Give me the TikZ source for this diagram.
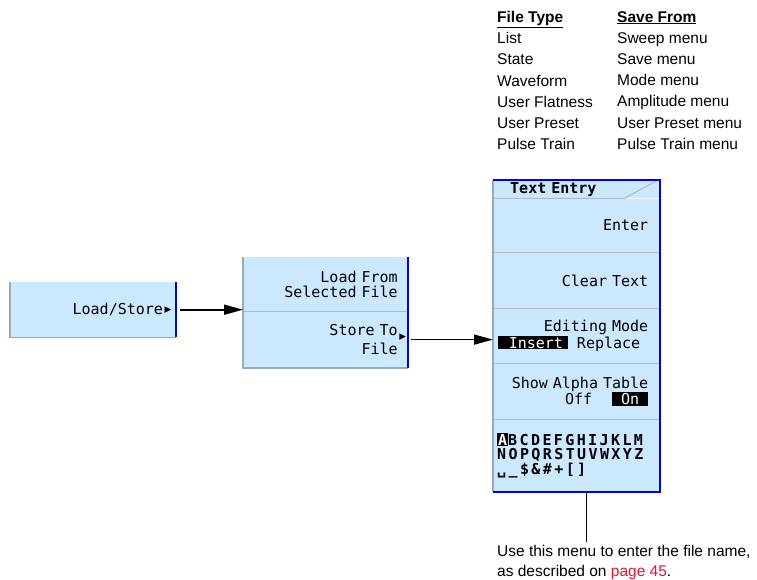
\documentclass[tikz,border=0pt]{standalone}
\usepackage{fontspec}
\setmainfont{Liberation Sans}
\setmonofont{DejaVu Sans Mono}
\usetikzlibrary{arrows.meta,positioning,calc}
\definecolor{keyfill}{RGB}{204,232,255}
\definecolor{keyblue}{RGB}{0,0,235}
\definecolor{keygray}{RGB}{160,168,176}
\definecolor{linkred}{RGB}{232,18,48}

\newcommand{\menufont}{\ttfamily\fontsize{15}{14.5}\selectfont}
\newcommand{\invtext}[1]{{\setlength{\fboxsep}{1pt}\colorbox{black}{\textcolor{white}{#1}}}}
\newcommand{\subarrow}{{\fontsize{17}{17}\selectfont ▸}}
\newcommand{\keymargin}[1]{\rule{#1}{0pt}}

\tikzset{
  softkey/.style={rectangle, fill=keyfill, anchor=north west, font=\menufont, align=right, inner ysep=0pt},
  grayedge/.style={draw=keygray, line width=1.5pt},
  blueedge/.style={draw=keyblue, line width=2pt},
  keydivider/.style={draw=keygray!80, line width=1pt},
  flowarrow/.style={draw=black, line width=1.6pt, -{Triangle[length=19pt,width=10pt]}},
  tabletext/.style={anchor=north west, align=left, inner sep=0pt, font=\fontsize{15.5}{21.2}\selectfont}
}

\begin{document}
\begin{tikzpicture}[x=1pt,y=-1pt]
\useasboundingbox (0,0) rectangle (757,580);

% -------- File type table --------
\node[tabletext] (filetype) at (497,11)
{\underline{\textbf{File Type}}\\List\\State\\Waveform\\User Flatness\\User Preset\\Pulse Train};
\node[tabletext] (savefrom) at (617,11)
{\underline{\textbf{Save From}}\\Sweep menu\\Save menu\\Mode menu\\Amplitude menu\\User Preset menu\\Pulse Train menu};

% -------- Load/Store key --------
\node[softkey, minimum width=166, minimum height=55, text width=160, inner xsep=3pt] (loadstore) at (10,282)
{Load/Store\subarrow};
\draw[grayedge] (loadstore.north west) -- (loadstore.south west) -- (loadstore.south east);
\draw[blueedge] (loadstore.north east) -- (loadstore.south east);

% -------- Load/Store menu --------
\node[softkey, minimum width=165, minimum height=54, text width=144, inner xsep=10.5pt] (loadfrom) at (243,257)
{Load From\\Selected File};
\node[softkey, minimum width=165, minimum height=56, text width=144, inner xsep=10.5pt, below=0pt of loadfrom] (storeto)
{Store To\rlap{\raisebox{-6pt}{\subarrow}}\\File};
\draw[keydivider] (loadfrom.south west) -- (loadfrom.south east);
\draw[grayedge] (loadfrom.north west) -- (storeto.south west) -- (storeto.south east);
\draw[blueedge] (loadfrom.north east) -- (storeto.south east);

% -------- Text Entry menu --------
\node[softkey, align=left, minimum width=167, minimum height=18, text width=133, inner xsep=17pt, font=\menufont\bfseries] (entrytitle) at (493,180)
{Text Entry};
\node[softkey, minimum width=167, minimum height=54, text width=143, inner xsep=12pt, below=0pt of entrytitle] (enterkey)
{Enter};
\node[softkey, minimum width=167, minimum height=55, text width=143, inner xsep=12pt, below=0pt of enterkey] (cleartext)
{Clear Text};
\node[softkey, minimum width=167, minimum height=55, text width=167, inner xsep=0pt, below=0pt of cleartext] (editmode)
{Editing Mode\keymargin{12pt}\\\invtext{\hspace*{10pt}Insert\hspace*{4pt}}\hspace*{9pt}Replace\keymargin{20pt}};
\node[softkey, minimum width=167, minimum height=55, text width=143, inner xsep=12pt, below=0pt of editmode] (alphatoggle)
{Show Alpha Table\\Off\hspace*{20pt}\invtext{\hspace*{8pt}On\hspace*{8pt}}};
\node[softkey, align=left, minimum width=167, minimum height=73, text width=159, inner xsep=4pt, font=\menufont\bfseries, below=0pt of alphatoggle] (alphatable)
{\addfontfeature{LetterSpace=16}\invtext{A}BCDEFGHIJKLM\\NOPQRSTUVWXYZ\\␣\_\$\&\#+[]};

\coordinate (tabcorner) at ($(entrytitle.south east)+(-36,0)$);
\coordinate (tabtop) at ($(entrytitle.north east)+(-4,1)$);
\draw[keydivider] (entrytitle.south west) -- (tabcorner) -- (tabtop);
\foreach \k in {enterkey,cleartext,editmode,alphatoggle}
  \draw[keydivider] (\k.south west) -- (\k.south east);
\draw[grayedge] (entrytitle.north west) -- (alphatable.south west);
\draw[blueedge] (entrytitle.north west) -- (entrytitle.north east) -- (alphatable.south east) -- (alphatable.south west);

% -------- Arrows --------
\draw[flowarrow, shorten <=4pt] (loadstore.east) -- (loadstore.east -| loadfrom.west);
\draw[flowarrow, shorten <=3pt] (storeto.east) -- (storeto.east -| editmode.west);

% -------- Note --------
\node[tabletext, font=\fontsize{15.5}{20}\selectfont] (usenote) at (497,545)
{Use this menu to enter the file name,\\as described on \textcolor{linkred}{page 45}.};
\coordinate (notetop) at ($(alphatable.south)+(10,0)$);
\draw[line width=1.3pt, shorten >=3pt] (notetop) -- (notetop |- usenote.north);

\end{tikzpicture}
\end{document}
